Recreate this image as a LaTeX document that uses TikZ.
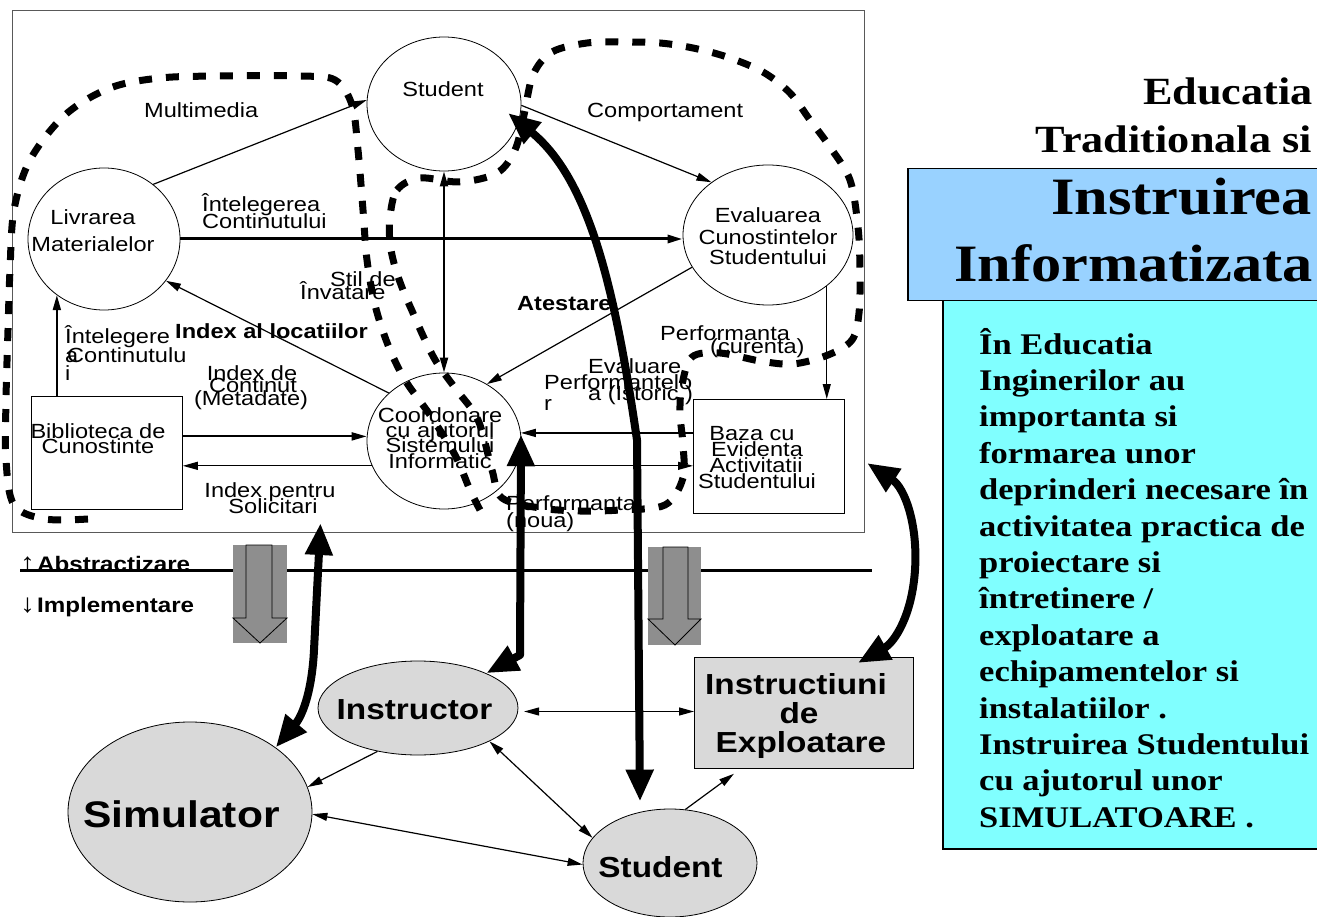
\documentclass[tikz,border=0pt]{standalone}
\usepackage{fontspec}
\setmainfont{Liberation Serif}[FakeStretch=1.15]
\setsansfont{Liberation Sans}[FakeStretch=1.15]
\usetikzlibrary{shapes.geometric,arrows.meta,calc}
\definecolor{blueb}{RGB}{153,210,255}
\definecolor{cyanb}{RGB}{128,255,255}
\definecolor{nodegray}{RGB}{217,217,217}
\definecolor{blockgray}{RGB}{142,142,142}
\newcommand\fsz[2]{\fontsize{#1}{#2}\selectfont}
\begin{document}
\begin{tikzpicture}[x=1pt,y=-1pt,
  lab/.style={font=\sffamily\fsz{20.5}{16}, inner sep=0, anchor=base west},
  labc/.style={font=\sffamily\fsz{20.5}{16}, inner sep=0, anchor=base},
  blab/.style={font=\sffamily\bfseries\fsz{20.5}{16}, inner sep=0, anchor=base west},
  biglab/.style={font=\sffamily\bfseries\fsz{29}{30}, inner sep=0, anchor=base},
  serlab/.style={font=\rmfamily\bfseries\fsz{38.5}{40}, inner sep=0, anchor=base east},
  hugelab/.style={font=\rmfamily\bfseries\fsz{52.5}{55}, inner sep=0, anchor=base east},
  cyanlab/.style={font=\rmfamily\bfseries\fsz{30}{35}, inner sep=0, anchor=base west},
  ell/.style={ellipse, draw, line width=0.8pt, inner sep=0},
  gell/.style={ellipse, draw, line width=0.8pt, inner sep=0, fill=nodegray},
  rbox/.style={draw, line width=0.8pt, inner sep=0, anchor=north west},
  conn/.style={line width=1.2pt, -{Triangle[length=15pt,width=8pt]}},
  dconn/.style={line width=1.2pt, {Triangle[length=15pt,width=8pt]}-{Triangle[length=15pt,width=8pt]}},
  bigarr/.style={line width=8pt, line join=round, {Triangle[length=32pt,width=26pt]}-{Triangle[length=32pt,width=26pt]}},
  dashblob/.style={line width=7pt, dash pattern=on 13pt off 14pt}
]
\useasboundingbox (0,0) rectangle (1317,917);

% right side boxes
\node[rbox, fill=cyanb, line width=1.5pt, minimum width=400pt, minimum height=548pt] (cyanbox) at (942,300) {};
\node[rbox, fill=blueb, line width=1.5pt, minimum width=430pt, minimum height=132pt] (bluebox) at (907,168) {};
\node[serlab] (tEdu) at (1313,105) {Educatia};
\node[serlab] (tTrad) at (1312,153) {Traditionala si};
\node[hugelab] (tInst) at (1312,215) {Instruirea};
\node[hugelab] (tInfo) at (1313,282) {Informatizata};
\foreach \t [count=\i] in {În Educatia, Inginerilor au, importanta si, formarea unor, deprinderi necesare în, activitatea practica de, proiectare si, întretinere /, exploatare a, echipamentelor si, instalatiilor ., Instruirea Studentului, cu ajutorul unor, SIMULATOARE .}
  \node[cyanlab] (c\i) at (979,{354+36.4*(\i-1)}) {\t};

% frame
\node[rbox, draw=black!65, line width=1pt, minimum width=852pt, minimum height=522pt] (frame) at (12,10) {};

% top nodes
\node[ell, minimum width=154pt, minimum height=134pt] (stuT) at (444,104) {};
\node[ell, minimum width=152pt, minimum height=142pt] (liv) at (104,239) {};
\node[ell, minimum width=170pt, minimum height=140pt] (eva) at (768,235) {};
\node[ell, minimum width=154pt, minimum height=136pt] (coo) at (444,441) {};
\node[rbox, minimum width=151pt, minimum height=113pt] (bib) at (31,396) {};
\node[rbox, minimum width=151pt, minimum height=114pt] (baza) at (693,399) {};

% bottom nodes
\node[gell, minimum width=200pt, minimum height=94pt] (inst) at (418,708) {};
\node[gell, minimum width=244pt, minimum height=180pt] (sim) at (190,812) {};
\node[gell, minimum width=174pt, minimum height=108pt] (stuB) at (670,863) {};
\node[rbox, fill=nodegray, minimum width=219pt, minimum height=111pt] (instr) at (694,657) {};

% thin connectors (top)
\draw[conn] (liv.48.5) -- (stuT.177);
\draw[conn] (stuT.-1) -- (eva.137);
\draw[conn, line width=3pt] (liv.east) -- (liv.east -| eva.west);
\draw[dconn, line width=2pt] (coo.north) -- (stuT.south);
\draw[conn] (coo.139.4) -- (liv.-34);
\draw[conn] (eva.203.5) -- (coo.53.4);
\draw[conn, line width=2pt] (bib.north -| liv.230) -- (liv.230);
\draw[conn, line width=2pt] ([yshift=16.5pt]bib.east) -- ([yshift=16.5pt]bib.east -| coo.west);
\draw[conn] (coo.199) -- (coo.199 -| bib.east);
\draw[conn, line width=1.6pt] (coo.6 -| baza.west) -- (coo.6);
\draw[conn] (coo.-19) -- (coo.-19 -| baza.west);
\draw[conn] (eva.-41.4) -- (eva.-41.4 |- baza.north);

% thin connectors (bottom)
\draw[dconn] ([xshift=6pt]inst.-2.3) -- (inst.-2.3 -| instr.west);
\draw[conn] (inst.227.9) -- (sim.12);
\draw[dconn] (sim.-1.5) -- (stuB.181);
\draw[dconn] (inst.-25.8) -- (stuB.162);
\draw[conn] (stuB.74.5) -- ($(instr.south)+(-70,5)$);

% labels top
\node[lab] (lMulti) at (144,118) {Multimedia};
\node[labc] (lStuT) at (443,97) {Student};
\node[lab] (lComp) at (587,118) {Comportament};
\node[labc] (lLiv1) at (93,225) {Livrarea};
\node[labc] (lLiv2) at (93,252) {Materialelor};
\node[lab] (lInt1) at (202,212) {Întelegerea};
\node[lab] (lInt2) at (202,229) {Continutului};
\node[labc] (lEva1) at (768,223) {Evaluarea};
\node[labc] (lEva2) at (768,245) {Cunostintelor};
\node[labc] (lEva3) at (768,265) {Studentului};
\node[lab] (lStil1) at (330,287) {Stil de};
\node[lab] (lStil2) at (300,300) {Învatare};
\node[blab] (lIdxLoc) at (175,338) {Index al locatiilor};
\node[lab] (lIe1) at (65,343) {Întelegere};
\node[lab] (lIe2) at (65,362) {a};
\node[lab] (lIe3) at (67,362) {Continutulu};
\node[lab] (lIe4) at (65,380) {i};
\node[labc] (lIdc1) at (252,380) {Index de};
\node[labc] (lIdc2) at (253,392) {Continut};
\node[labc] (lIdc3) at (251,405) {(Metadate)};
\node[labc] (lBib1) at (98,438) {Biblioteca de};
\node[labc] (lBib2) at (98,453) {Cunostinte};
\node[labc] (lIps1) at (270,497) {Index pentru};
\node[labc] (lIps2) at (273,513) {Solicitari};
\node[blab] (lAtes) at (517,310) {Atestare};
\node[lab] (lPc1) at (660,340) {Performanta};
\node[lab] (lPc2) at (710,353) {(curenta)};
\node[lab] (lEv) at (588,373) {Evaluare};
\node[lab] (lPf) at (544,389) {Performantelo};
\node[lab] (lR) at (544,410) {r};
\node[lab] (lIst) at (588,400) {a (Istoric )};
\node[lab] (lPn1) at (506,510) {Performanta};
\node[lab] (lPn2) at (506,527) {(noua)};
\node[labc] (lCoo1) at (440,422) {Coordonare};
\node[labc] (lCoo2) at (440,437) {cu ajutorul};
\node[labc] (lCoo3) at (440,452) {Sistemului};
\node[labc] (lCoo4) at (440,468) {Informatic};
\node[labc] (lBaz1) at (752,440) {Baza cu};
\node[labc] (lBaz2) at (757,456) {Evidenta};
\node[labc] (lBaz3) at (756,472) {Activitatii};
\node[labc] (lBaz4) at (757,488) {Studentului};

% bottom labels
\node[biglab] (lInst) at (414.5,719) {Instructor};
\node[biglab, font=\sffamily\bfseries\fsz{37}{38}] (lSim) at (181.5,827) {Simulator};
\node[biglab] (lStuB) at (660.5,877) {Student};
\node[biglab] (lIns1) at (796,694) {Instructiuni};
\node[biglab] (lIns2) at (799,723) {de};
\node[biglab] (lIns3) at (801,752) {Exploatare};

% separator
\draw[line width=3pt] (20,570) -- (872,570);
\node[font=\sffamily\bfseries\fsz{21}{22}, inner sep=0, anchor=base west] (lAbs) at (20,571) {{\fsz{26}{26}↑}\hspace{2pt}Abstractizare};
\node[font=\sffamily\bfseries\fsz{21}{22}, inner sep=0, anchor=base west] (lImp) at (20,612) {{\fsz{26}{26}↓}\hspace{2pt}Implementare};

% grey block arrows
\fill[blockgray] (233,545) rectangle (287,643);
\draw[fill=blockgray, line width=0.8pt] (246,545) -- (272,545) -- (272,618) -- (287,618) -- (260,643) -- (233,618) -- (246,618) -- cycle;
\fill[blockgray] (648,547) rectangle (701,645);
\draw[fill=blockgray, line width=0.8pt] (663,547) -- (688,547) -- (688,619) -- (701,619) -- (675,645) -- (648,619) -- (663,619) -- cycle;

% dashed regions
\draw[dashblob] plot[smooth, tension=0.55] coordinates {(88,519) (45,519) (14,505) (6,460) (6,400) (8,330) (10,270) (14,210) (30,160) (65,115) (110,88) (160,78) (220,76) (300,76) (335,80) (352,105) (358,150) (363,210) (367,260) (375,305) (388,345) (405,380) (430,415) (455,455) (470,490) (480,510)};
\draw[dashblob] plot[smooth cycle, tension=0.55] coordinates {(390,217) (397,190) (420,178) (460,182) (497,173) (515,150) (524,115) (533,75) (552,52) (587,43) (623,42) (660,43) (693,48) (727,57) (763,72) (790,93) (810,120) (830,147) (850,180) (858,227) (860,270) (859,313) (852,340) (828,355) (793,364) (760,361) (720,353) (692,357) (682,385) (680,413) (683,445) (683,478) (665,505) (620,510) (580,511) (540,508) (502,498) (492,470) (478,420) (455,388) (437,363) (425,340) (413,313) (403,290) (395,267) (390,243)};

% thick arrows
\coordinate (t1a) at ($(stuB.north)+(-30,-7)$);
\coordinate (t1b) at ($(stuT.center)+(64,9)$);
\draw[bigarr] (t1a) -- (637,440) .. controls (615,290) and (590,180) .. (t1b);
\coordinate (t2b) at ($(frame.south)+(-118,-10)$);
\draw[bigarr] (sim.37) .. controls (303,715) and (312,690) .. (314,650) -- (t2b);
\draw[bigarr] (inst.27.6) -- (520,655) -- (coo.5.8);
\coordinate (t4a) at ($(frame.south east)+(2,-70)$);
\coordinate (t4b) at ($(instr.north east)+(-56,6)$);
\draw[bigarr] (t4a) .. controls (905,488) and (918,525) .. (915,570) .. controls (912,615) and (895,642) .. (t4b);
\end{tikzpicture}
\end{document}
